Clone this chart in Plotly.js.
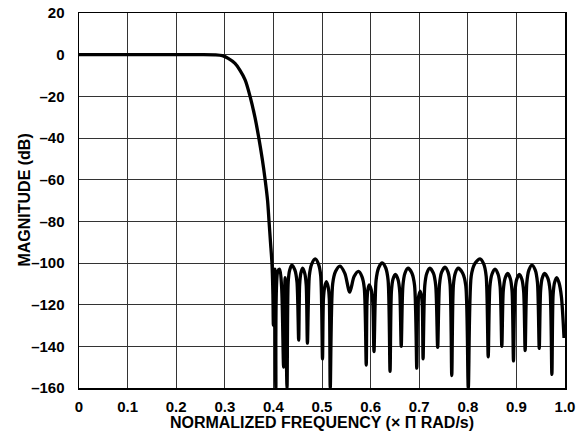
<!DOCTYPE html>
<html>
<head>
<meta charset="utf-8">
<script src="https://cdn.plot.ly/plotly-3.0.1.min.js"></script>
<style>html,body{margin:0;padding:0;background:#fff;}#chart{width:583px;height:444px;}</style>
</head>
<body>
<div id="chart"></div>
<script>
// Normalized frequency (x PI rad/s)
var freq = [
  0.000, 0.100, 0.200, 0.250, 0.280, 0.295, 0.307, 0.321, 0.331, 0.342,
  0.352, 0.362, 0.370, 0.377, 0.383, 0.388, 0.391, 0.394, 0.397, 0.399,
  0.400, 0.403, 0.405, 0.409, 0.413, 0.417, 0.421, 0.424, 0.428,
  0.4305, 0.4335, 0.438, 0.4443, 0.4485, 0.452,
  0.454, 0.4564, 0.460, 0.4645, 0.4675, 0.470,
  0.474, 0.4788, 0.486, 0.4928, 0.4973, 0.501,
  0.503, 0.5056, 0.509, 0.5126, 0.515, 0.517,
  0.522, 0.528, 0.537, 0.547, 0.557, 0.566, 0.575, 0.5822, 0.587, 0.591,
  0.5925, 0.5943, 0.597, 0.6015, 0.6045, 0.607,
  0.6113, 0.6164, 0.624, 0.6312, 0.636, 0.640,
  0.6428, 0.6459, 0.651, 0.6564, 0.660, 0.663,
  0.6665, 0.6707, 0.677, 0.6851, 0.6905, 0.695,
  0.6968, 0.6989, 0.702, 0.7047, 0.7065, 0.708,
  0.7115, 0.7157, 0.722, 0.7292, 0.734, 0.738,
  0.7418, 0.7462, 0.753, 0.7593, 0.7635, 0.767,
  0.7703, 0.7742, 0.780, 0.7895, 0.7958, 0.801,
  0.807, 0.8142, 0.825, 0.8327, 0.8378, 0.842,
  0.8455, 0.8497, 0.856, 0.8623, 0.8665, 0.870,
  0.873, 0.8766, 0.882, 0.8874, 0.891, 0.894,
  0.897, 0.9006, 0.906, 0.9114, 0.915, 0.918,
  0.9215, 0.9257, 0.932, 0.9388, 0.9433, 0.947,
  0.9498, 0.9529, 0.958, 0.9648, 0.9693, 0.973,
  0.9755, 0.9785, 0.983, 0.9875, 0.9925, 0.998
];
// Magnitude (dB)
var magDb = [
  0, 0, 0, 0, -0.1, -0.5, -1.8, -4.2, -7.4, -12.2,
  -20, -30, -40, -50, -60, -70, -80, -90, -100, -115,
  -130, -103, -160, -104, -103, -112, -150, -107, -160,
  -109, -103.4, -101, -103.4, -109, -137,
  -110.5, -105, -102.5, -105, -110.5, -138.5,
  -106, -100.5, -98, -100.5, -106, -146,
  -117, -111.5, -109, -111.5, -117, -160,
  -110, -104, -101.5, -105, -114, -106.5, -104, -106.5, -112, -149,
  -119, -113, -110.5, -113, -119, -142.5,
  -108.3, -102.4, -100, -102.4, -108.3, -152,
  -113.8, -107.9, -105.5, -107.9, -113.8, -140,
  -110.8, -104.9, -102.5, -104.9, -110.8, -150.5,
  -121, -116, -113.5, -116, -121, -146,
  -110.8, -104.9, -102.5, -104.9, -110.8, -140.5,
  -110.3, -104.4, -102, -104.4, -110.3, -154,
  -110.8, -104.9, -102.5, -104.9, -110.8, -160,
  -106.3, -100.4, -98, -100.4, -106.3, -145,
  -111.3, -105.4, -103, -105.4, -111.3, -140,
  -113.3, -107.4, -105, -107.4, -113.3, -147,
  -113.8, -107.9, -105.5, -107.9, -113.8, -142,
  -109.3, -103.4, -101, -103.4, -109.3, -141,
  -113.3, -107.4, -105, -107.4, -113.3, -153.5,
  -115.3, -109.4, -107, -109.4, -116, -136
];
var xTickVals = [0, 0.1, 0.2, 0.3, 0.4, 0.5, 0.6, 0.7, 0.8, 0.9, 1.0];
var xTickText = ['0', '0.1', '0.2', '0.3', '0.4', '0.5', '0.6', '0.7', '0.8', '0.9', '1.0'];
var yTickVals = [-160, -140, -120, -100, -80, -60, -40, -20, 0, 20];
var yTickText = ['\u2013160', '\u2013140', '\u2013120', '\u2013100', '\u201380', '\u201360', '\u201340', '\u201320', '0', '20'];
var xTitle = 'NORMALIZED FREQUENCY (\u00d7 \u03a0 RAD/s)';
var yTitle = 'MAGNITUDE (dB)';

var fontFam = 'Liberation Sans, Arial, Helvetica, sans-serif';
var tickFont = {family: fontFam, size: 15, color: '#000', weight: 'bold'};
var titleFont = {family: fontFam, size: 16, color: '#000', weight: 'bold'};
var trace = {
  x: freq, y: magDb, type: 'scatter', mode: 'lines',
  line: {color: '#000', width: 3.3, shape: 'spline', smoothing: 0.8},
  hoverinfo: 'skip'
};
var layout = {
  width: 583, height: 444,
  margin: {l: 79, r: 18, t: 13, b: 56, pad: 0},
  paper_bgcolor: '#fff', plot_bgcolor: '#fff',
  showlegend: false,
  font: tickFont,
  xaxis: {
    range: [0, 1], tickvals: xTickVals, ticktext: xTickText,
    showgrid: true, gridcolor: '#333', gridwidth: 1,
    showline: true, linecolor: '#000', linewidth: 1.5, mirror: true,
    ticks: 'outside', ticklen: 4, tickcolor: 'rgba(0,0,0,0)',
    zeroline: false, fixedrange: true,
    tickfont: tickFont,
    title: {text: xTitle, standoff: 2, font: titleFont}
  },
  yaxis: {
    range: [-160, 20], tickvals: yTickVals, ticktext: yTickText,
    showgrid: true, gridcolor: '#333', gridwidth: 1,
    showline: true, linecolor: '#000', linewidth: 1.5, mirror: true,
    ticks: 'outside', ticklen: 10, tickcolor: 'rgba(0,0,0,0)',
    zeroline: false, fixedrange: true,
    tickfont: tickFont
  },
  annotations: [{
    text: yTitle, xref: 'paper', yref: 'paper', x: -0.113, y: 0.5,
    xanchor: 'center', yanchor: 'middle', textangle: -90, showarrow: false,
    font: titleFont
  }]
};
Plotly.newPlot('chart', [trace], layout, {displayModeBar: false, staticPlot: true});
</script>
</body>
</html>
